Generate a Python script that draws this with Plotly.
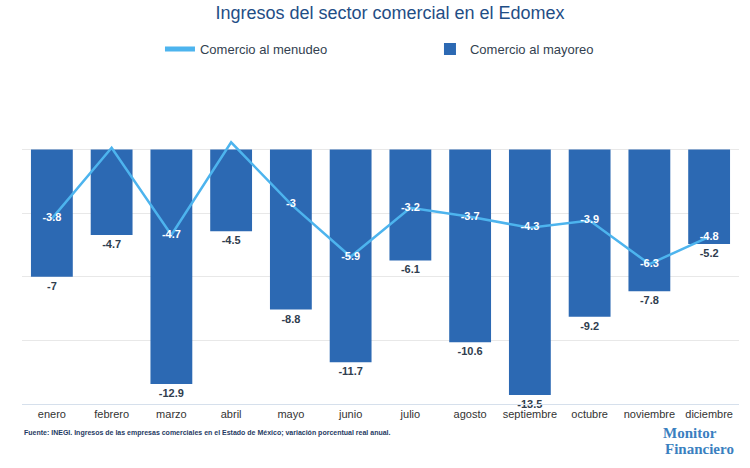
import plotly.graph_objects as go

meses = ["enero", "febrero", "marzo", "abril", "mayo", "junio", "julio",
         "agosto", "septiembre", "octubre", "noviembre", "diciembre"]
mayoreo = [-7, -4.7, -12.9, -4.5, -8.8, -11.7, -6.1, -10.6, -13.5, -9.2, -7.8, -5.2]
menudeo = [-3.8, 0.1, -4.7, 0.4, -3, -5.9, -3.2, -3.7, -4.3, -3.9, -6.3, -4.8]
menudeo_txt = ["-3.8", "", "-4.7", "", "-3", "-5.9", "-3.2", "-3.7", "-4.3", "-3.9", "-6.3", "-4.8"]

FONT = "Liberation Sans, Arial, sans-serif"

fig = go.Figure()
fig.add_trace(go.Scatter(
    x=meses, y=menudeo, name="Comercio al menudeo", mode="lines+text",
    line=dict(color="#4DB4EE", width=2.5),
    text=menudeo_txt, textposition="middle center",
    textfont=dict(color="white", size=11, family=FONT, weight="bold"),
    cliponaxis=False, hoverinfo="skip",
))
fig.add_trace(go.Bar(
    x=meses, y=mayoreo, name="Comercio al mayoreo",
    marker=dict(color="#2C69B3", line=dict(width=0)),
    text=[f"{v:g}" for v in mayoreo], textposition="outside",
    textfont=dict(color="#2F3D4E", size=11, family=FONT, weight="bold"),
    constraintext="none", cliponaxis=False, hoverinfo="skip",
))

fig.update_layout(
    width=750, height=468,
    margin=dict(l=22, r=11, t=86, b=64, autoexpand=False),
    paper_bgcolor="white", plot_bgcolor="white",
    bargap=0.3, hovermode=False,
    font=dict(family=FONT, color="#333333"),
    title=dict(text="Ingresos del sector comercial en el Edomex",
               x=0.52, xanchor="center", yref="container", y=0.972, yanchor="middle",
               font=dict(size=18, color="#1F4E86", family=FONT)),
    legend=dict(orientation="h", x=0.569, xanchor="center",
                yref="container", y=0.895, yanchor="middle",
                font=dict(size=13, color="#333F50", family=FONT),
                entrywidth=225, entrywidthmode="pixels",
                traceorder="normal", itemsizing="constant"),
    showlegend=True,
)
fig.update_xaxes(range=[-0.5, 11.5], showgrid=False, showline=True, linecolor="#D6E0EC",
                 linewidth=1, tickfont=dict(size=11, color="#333333", family=FONT), ticks="")
fig.update_yaxes(range=[-14, 3.5], tick0=0, dtick=3.5, showticklabels=False,
                 showgrid=True, gridcolor="#E8E8E8", zeroline=True, zerolinecolor="#E8E8E8",
                 zerolinewidth=1)

fig.add_annotation(
    text="Fuente: INEGI. Ingresos de las empresas comerciales en el Estado de México; variación porcentual real anual.",
    xref="paper", yref="paper", x=0.0, y=-0.091, xanchor="left", yanchor="middle",
    showarrow=False, font=dict(size=7, color="#1F3B63", family=FONT, weight="bold"))
fig.add_annotation(
    text="Monitor", xref="paper", yref="paper", x=0.891, y=-0.09, xanchor="left", yanchor="middle",
    showarrow=False, font=dict(size=15, color="#3A7FC0", family="Liberation Serif, serif", weight="bold"))
fig.add_annotation(
    text="Financiero", xref="paper", yref="paper", x=0.894, y=-0.14, xanchor="left", yanchor="middle",
    showarrow=False, font=dict(size=15, color="#3A7FC0", family="Liberation Serif, serif", weight="bold"))

fig.write_html("out.html", config={"displayModeBar": False},
               post_script="document.body.style.margin='0px';")
